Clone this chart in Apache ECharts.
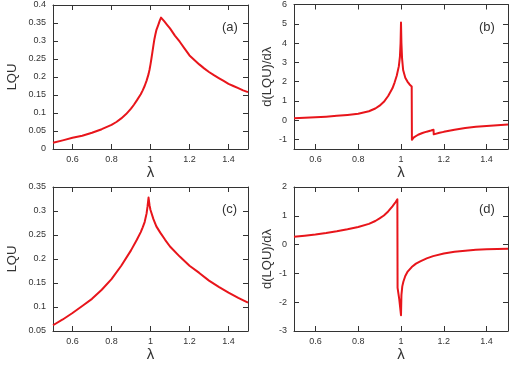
<!DOCTYPE html>
<html>
<head>
<meta charset="utf-8">
<script src="https://cdn.jsdelivr.net/npm/echarts@6/dist/echarts.min.js"></script>
<style>
  html, body { margin: 0; padding: 0; background: #fff; }
  #chart { width: 514px; height: 367px; }
</style>
</head>
<body>
<div id="chart"></div>
<script>
// panel (a): LQU
const lamA = [0.5, 0.55, 0.6, 0.65, 0.7, 0.75, 0.8, 0.825, 0.85, 0.875, 0.9, 0.915, 0.93, 0.95, 0.96, 0.97, 0.98, 0.99, 0.995, 1.0, 1.005, 1.01, 1.015, 1.02, 1.025, 1.03, 1.04, 1.047, 1.054, 1.07, 1.085, 1.1, 1.125, 1.15, 1.175, 1.2, 1.25, 1.275, 1.3, 1.325, 1.35, 1.375, 1.4, 1.425, 1.45, 1.475, 1.5];
const lquA = [0.0175, 0.024, 0.031, 0.037, 0.045, 0.055, 0.067, 0.075, 0.085, 0.097, 0.112, 0.123, 0.135, 0.152, 0.163, 0.175, 0.19, 0.208, 0.22, 0.235, 0.252, 0.27, 0.288, 0.305, 0.318, 0.33, 0.345, 0.356, 0.365, 0.355, 0.345, 0.335, 0.315, 0.298, 0.279, 0.26, 0.235, 0.224, 0.214, 0.205, 0.197, 0.189, 0.181, 0.175, 0.169, 0.163, 0.158];

// panel (b): d(LQU)/dλ
const lamB = [0.5, 0.55, 0.6, 0.65, 0.7, 0.75, 0.8, 0.85, 0.88, 0.9, 0.92, 0.94, 0.96, 0.97, 0.98, 0.99, 0.995, 0.998, 1.0, 1.002, 1.005, 1.01, 1.02, 1.03, 1.04, 1.05, 1.051, 1.06, 1.08, 1.1, 1.12, 1.14, 1.152, 1.153, 1.18, 1.2, 1.25, 1.3, 1.35, 1.4, 1.45, 1.5];
const derB = [0.09, 0.12, 0.15, 0.18, 0.22, 0.27, 0.33, 0.46, 0.6, 0.75, 0.95, 1.25, 1.65, 1.95, 2.3, 2.8, 3.3, 4.0, 5.06, 4.0, 3.2, 2.6, 2.2, 2.0, 1.85, 1.75, -1.02, -0.9, -0.76, -0.67, -0.6, -0.54, -0.5, -0.74, -0.66, -0.61, -0.5, -0.41, -0.35, -0.3, -0.27, -0.23];

// panel (c): LQU
const lamC = [0.5, 0.55, 0.6, 0.65, 0.7, 0.75, 0.8, 0.85, 0.9, 0.93, 0.95, 0.96, 0.97, 0.98, 0.985, 0.99, 0.995, 1.0, 1.015, 1.03, 1.05, 1.075, 1.1, 1.15, 1.2, 1.25, 1.3, 1.35, 1.4, 1.45, 1.5];
const lquC = [0.062, 0.074, 0.0875, 0.102, 0.117, 0.136, 0.158, 0.186, 0.218, 0.24, 0.256, 0.266, 0.277, 0.295, 0.31, 0.328, 0.312, 0.302, 0.283, 0.268, 0.255, 0.24, 0.226, 0.205, 0.186, 0.171, 0.155, 0.142, 0.13, 0.119, 0.109];

// panel (d): d(LQU)/dλ
const lamD = [0.5, 0.55, 0.6, 0.65, 0.7, 0.75, 0.8, 0.85, 0.88, 0.9, 0.92, 0.94, 0.96, 0.975, 0.983, 0.984, 0.992, 1.0, 1.002, 1.006, 1.011, 1.02, 1.03, 1.05, 1.07, 1.09, 1.12, 1.15, 1.2, 1.25, 1.3, 1.35, 1.4, 1.45, 1.5];
const derD = [0.27, 0.31, 0.35, 0.4, 0.46, 0.53, 0.61, 0.72, 0.82, 0.91, 1.01, 1.15, 1.33, 1.48, 1.57, -1.5, -1.9, -2.45, -1.75, -1.45, -1.29, -1.09, -0.95, -0.78, -0.66, -0.58, -0.48, -0.4, -0.31, -0.25, -0.21, -0.18, -0.16, -0.15, -0.14];

const xTicks = [0.6, 0.8, 1, 1.2, 1.4];
const yTicksB = [-1, 0, 1, 2, 3, 4, 5, 6];

const font = 'Liberation Sans, Arial, sans-serif';
const ink = '#333';
const red = '#e8151b';

const grids = [
  { left: 53, top: 5, width: 195, height: 144 },
  { left: 294, top: 4, width: 214, height: 145 },
  { left: 53, top: 187, width: 195, height: 144 },
  { left: 294, top: 187, width: 214, height: 144 }
];

const frameLine = { show: true, onZero: false, lineStyle: { color: ink, width: 1 } };

const makeX = (i) => [
  {
    gridIndex: i, type: 'value', position: 'bottom', min: 0.5, max: 1.5,
    name: 'λ', nameLocation: 'middle', nameGap: 15,
    nameTextStyle: { fontFamily: font, fontSize: 15, color: ink },
    axisLine: frameLine,
    axisTick: { inside: true, length: 5, customValues: xTicks, lineStyle: { color: ink } },
    axisLabel: { customValues: xTicks, fontFamily: font, fontSize: 9, color: ink, margin: 6 },
    splitLine: { show: false }
  },
  {
    gridIndex: i, type: 'value', position: 'top', min: 0.5, max: 1.5,
    axisLine: frameLine,
    axisTick: { inside: true, length: 5, customValues: xTicks, lineStyle: { color: ink } },
    axisLabel: { show: false },
    splitLine: { show: false }
  }
];

const makeY = (i, name, gap, min, max, interval, custom) => {
  const tick = { inside: true, length: 5, lineStyle: { color: ink } };
  const label = { fontFamily: font, fontSize: 9, color: ink, margin: 7 };
  if (custom) {
    tick.customValues = custom;
    label.customValues = custom;
  }
  const base = { gridIndex: i, type: 'value', min: min, max: max, splitLine: { show: false } };
  if (interval) base.interval = interval;
  return [
    Object.assign({}, base, {
      position: 'left', name: name, nameLocation: 'middle', nameGap: gap, nameRotate: 90,
      nameTextStyle: { fontFamily: font, fontSize: 13, color: ink },
      axisLine: frameLine, axisTick: tick, axisLabel: label
    }),
    Object.assign({}, base, {
      position: 'right', axisLine: frameLine,
      axisTick: Object.assign({}, tick), axisLabel: { show: false }
    })
  ];
};

const pairs = (xs, ys) => xs.map((x, k) => [x, ys[k]]);

const line = (i, xs, ys) => ({
  type: 'line', xAxisIndex: i * 2, yAxisIndex: i * 2, data: pairs(xs, ys),
  showSymbol: false, silent: true,
  lineStyle: { color: red, width: 2, join: 'round' }
});

const panelLabel = (text, left, top) => ({
  text: text, left: left, top: top,
  textStyle: { fontFamily: font, fontSize: 13, fontWeight: 'normal', color: ink }
});

const chart = echarts.init(document.getElementById('chart'), null, { renderer: 'canvas' });

chart.setOption({
  animation: false,
  backgroundColor: '#fff',
  title: [
    panelLabel('(a)', 217, 16),
    panelLabel('(b)', 474, 16),
    panelLabel('(c)', 217, 198),
    panelLabel('(d)', 474, 198)
  ],
  grid: grids,
  xAxis: [].concat(makeX(0), makeX(1), makeX(2), makeX(3)),
  yAxis: [].concat(
    makeY(0, 'LQU', 34, 0, 0.4, 0.05),
    makeY(1, 'd(LQU)/dλ', 20, -1.5, 6, null, yTicksB),
    makeY(2, 'LQU', 34, 0.05, 0.35, 0.05),
    makeY(3, 'd(LQU)/dλ', 20, -3, 2, 1)
  ),
  series: [
    line(0, lamA, lquA),
    line(1, lamB, derB),
    line(2, lamC, lquC),
    line(3, lamD, derD)
  ]
});
</script>
</body>
</html>
